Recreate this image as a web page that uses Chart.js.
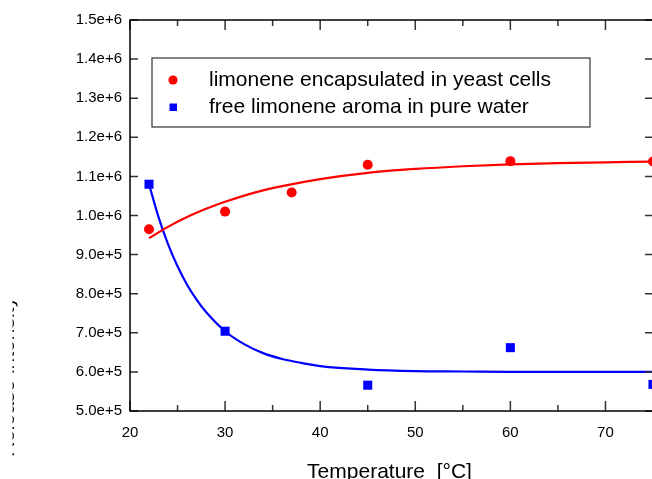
<!DOCTYPE html>
<html>
<head>
<meta charset="utf-8">
<script src="https://cdn.jsdelivr.net/npm/chart.js@4"></script>
<style>
body { margin: 0; background: #fff; }
#wrap { width: 652px; height: 479px; overflow: hidden; }
</style>
</head>
<body>
<div id="wrap"><canvas id="graph" width="660" height="479"></canvas></div>
<script>
// measured points
var tempYeast = [22, 30, 37, 45, 60, 75];
var intYeast = [965000, 1010000, 1059000, 1130000, 1139000, 1138000];
var tempWater = [22, 30, 45, 60, 75];
var intWater = [1080000, 704000, 566000, 662000, 568000];

// fitted curves
var fitYeastT = [22, 24, 26, 28, 30, 33, 36, 40, 45, 50, 55, 60, 65, 70, 75];
var fitYeastI = [942000, 971000, 996000, 1017000, 1035000, 1058000, 1075000, 1093000, 1109000, 1119000, 1126000, 1131000, 1134000, 1136000, 1138000];
var fitWaterT = [22, 23, 24, 25, 26, 27, 28, 30, 32, 34, 36, 38, 40, 45, 50, 55, 60, 70, 75];
var fitWaterI = [1080000, 996000, 927000, 870000, 823000, 785000, 753000, 704000, 671000, 648000, 633000, 623000, 615000, 606000, 602000, 601000, 600000, 600000, 600000];

var xTicks = [20, 30, 40, 50, 60, 70];
var xMinor = [25, 35, 45, 55, 65, 75];
var yTicks = [500000, 600000, 700000, 800000, 900000, 1000000, 1100000, 1200000, 1300000, 1400000, 1500000];
var seriesNames = ['limonene encapsulated in yeast cells', 'free limonene aroma in pure water'];

var police = 'Liberation Sans, Arial, sans-serif';
var rouge = '#ff0000';
var bleu = '#0000ff';

function pts(xs, ys) {
	return xs.map(function (x, i) { return { x: x, y: ys[i] }; });
}

var cadre = {
	id: 'cadre',
	afterDraw: function (chart) {
		var ctx = chart.ctx;
		var a = chart.chartArea;
		var sx = chart.scales.x, sy = chart.scales.y;
		ctx.save();

		// ticks pointing inward
		ctx.strokeStyle = '#333';
		ctx.lineWidth = 1.5;
		ctx.beginPath();
		xTicks.forEach(function (v) {
			var p = sx.getPixelForValue(v);
			ctx.moveTo(p, a.bottom); ctx.lineTo(p, a.bottom - 10);
			ctx.moveTo(p, a.top); ctx.lineTo(p, a.top + 10);
		});
		xMinor.forEach(function (v) {
			var p = sx.getPixelForValue(v);
			ctx.moveTo(p, a.bottom); ctx.lineTo(p, a.bottom - 6);
			ctx.moveTo(p, a.top); ctx.lineTo(p, a.top + 6);
		});
		yTicks.forEach(function (v) {
			var p = sy.getPixelForValue(v);
			ctx.moveTo(a.left, p); ctx.lineTo(a.left + 8, p);
			ctx.moveTo(a.right, p); ctx.lineTo(a.right - 8, p);
		});
		ctx.stroke();

		// frame
		ctx.strokeStyle = '#000';
		ctx.lineWidth = 1.5;
		ctx.strokeRect(a.left, a.top, a.right - a.left, a.bottom - a.top);

		// x title
		ctx.fillStyle = '#000';
		ctx.font = '21px ' + police;
		ctx.textAlign = 'center';
		ctx.textBaseline = 'alphabetic';
		ctx.fillText('Temperature  [°C]', (a.left + a.right) / 2 - 2, 478);

		// y title, mostly cut off on the left
		ctx.save();
		ctx.beginPath();
		ctx.rect(12.5, 280, 5, 199);
		ctx.clip();
		ctx.translate(14, 457);
		ctx.rotate(-Math.PI / 2);
		ctx.textAlign = 'left';
		ctx.fillText('Release intensity', 0, 0);
		ctx.restore();

		// legend box
		ctx.fillStyle = '#fff';
		ctx.fillRect(152, 58, 438, 69);
		ctx.strokeStyle = '#333';
		ctx.lineWidth = 1.2;
		ctx.strokeRect(152, 58, 438, 69);

		ctx.fillStyle = rouge;
		ctx.beginPath();
		ctx.arc(173, 80, 4.6, 0, Math.PI * 2);
		ctx.fill();
		ctx.fillStyle = bleu;
		ctx.fillRect(169.5, 103.5, 7.5, 7.5);

		ctx.fillStyle = '#000';
		ctx.textAlign = 'left';
		ctx.textBaseline = 'middle';
		ctx.fillText(seriesNames[0], 209, 80);
		ctx.fillText(seriesNames[1], 209, 107);
		ctx.restore();
	}
};

var ctx = document.getElementById('graph').getContext('2d');

var config = {
	type: 'scatter',
	data: {
		datasets: [
			{
				label: seriesNames[0],
				data: pts(tempYeast, intYeast),
				backgroundColor: rouge,
				borderColor: rouge,
				pointStyle: 'circle',
				pointRadius: 5,
				borderWidth: 0,
				showLine: false
			},
			{
				label: seriesNames[1],
				data: pts(tempWater, intWater),
				backgroundColor: bleu,
				borderColor: bleu,
				pointStyle: 'rect',
				pointRadius: 6.4,
				borderWidth: 0,
				showLine: false
			},
			{
				label: 'fit yeast',
				data: pts(fitYeastT, fitYeastI),
				borderColor: rouge,
				borderWidth: 2.2,
				pointRadius: 0,
				showLine: true,
				cubicInterpolationMode: 'monotone'
			},
			{
				label: 'fit water',
				data: pts(fitWaterT, fitWaterI),
				borderColor: bleu,
				borderWidth: 2.2,
				pointRadius: 0,
				showLine: true,
				cubicInterpolationMode: 'monotone'
			}
		]
	},
	options: {
		responsive: false,
		animation: false,
		layout: { padding: { top: 20, right: 7, left: 0, bottom: 0 } },
		plugins: {
			legend: { display: false },
			tooltip: { enabled: false }
		},
		scales: {
			x: {
				type: 'linear',
				min: 20,
				max: 75,
				grid: { display: false, drawTicks: false },
				border: { display: false },
				afterBuildTicks: function (s) { s.ticks = xTicks.map(function (v) { return { value: v }; }); },
				afterFit: function (s) { s.height = 68; },
				ticks: {
					color: '#000',
					padding: 13,
					font: { family: police, size: 15 },
					maxRotation: 0
				}
			},
			y: {
				type: 'linear',
				min: 500000,
				max: 1500000,
				grid: { display: false, drawTicks: false },
				border: { display: false },
				afterBuildTicks: function (s) { s.ticks = yTicks.map(function (v) { return { value: v }; }); },
				afterFit: function (s) { s.width = 130; },
				ticks: {
					color: '#000',
					padding: 8,
					font: { family: police, size: 15 },
					callback: function (v) { return Number(v).toExponential(1); }
				}
			}
		}
	},
	plugins: [cadre]
};

var graph1 = new Chart(ctx, config);
</script>
</body>
</html>
